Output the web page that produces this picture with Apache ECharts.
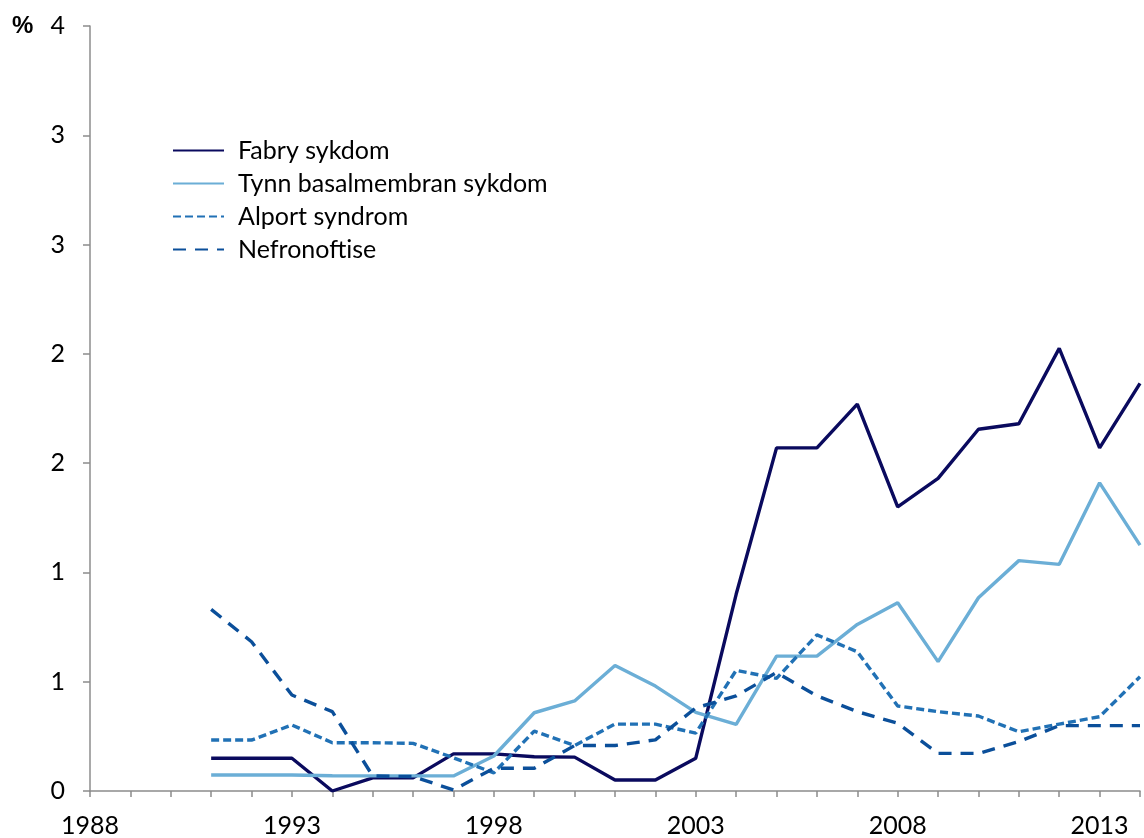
<!DOCTYPE html>
<html>
<head>
<meta charset="utf-8">
<script src="https://cdn.jsdelivr.net/npm/echarts@6/dist/echarts.min.js"></script>
<style>
  html, body { margin: 0; padding: 0; background: #fff; }
  #chart { width: 1144px; height: 838px; }
</style>
</head>
<body>
<div id="chart"></div>
<script>
const years = ['1988', '1989', '1990', '1991', '1992', '1993', '1994', '1995', '1996',
    '1997', '1998', '1999', '2000', '2001', '2002', '2003', '2004', '2005', '2006',
    '2007', '2008', '2009', '2010', '2011', '2012', '2013', '2014'];

const fabry = [null, null, null, 0.15, 0.15, 0.15, 0.00, 0.06, 0.06, 0.17, 0.17, 0.157,
    0.155, 0.05, 0.05, 0.15, 0.90, 1.57, 1.57, 1.77, 1.30, 1.43, 1.655, 1.68, 2.025, 1.57, 1.865];

const tynn = [null, null, null, 0.073, 0.073, 0.073, 0.07, 0.069, 0.069, 0.069, 0.16, 0.358,
    0.412, 0.574, 0.48, 0.36, 0.305, 0.617, 0.617, 0.762, 0.861, 0.592, 0.884, 1.054, 1.037, 1.41, 1.125];

const alport = [null, null, null, 0.233, 0.233, 0.302, 0.221, 0.221, 0.218, 0.152, 0.083, 0.274,
    0.208, 0.306, 0.306, 0.265, 0.552, 0.515, 0.714, 0.637, 0.389, 0.363, 0.343, 0.271, 0.306, 0.34, 0.523];

const nefro = [null, null, null, 0.831, 0.683, 0.439, 0.363, 0.069, 0.066, 0.005, 0.104, 0.104,
    0.208, 0.208, 0.234, 0.38, 0.435, 0.542, 0.435, 0.363, 0.31, 0.172, 0.172, 0.226, 0.299, 0.299, 0.299];

const font = 'Lato, "Open Sans", sans-serif';
const axisGrey = '#8c8c8c';

const chart = echarts.init(document.getElementById('chart'));

function line(name, data, color, type) {
    return {
        name: name,
        type: 'line',
        data: data,
        symbol: 'none',
        connectNulls: false,
        lineStyle: {color: color, width: 3.4, type: type, cap: 'butt'},
        itemStyle: {color: color}
    };
}

chart.setOption({
    animation: false,
    textStyle: {fontFamily: font},
    grid: {left: 90, right: 4, top: 26, bottom: 47},
    graphic: [{
        type: 'text',
        left: 12,
        top: 14,
        style: {text: '%', fontFamily: '"Liberation Sans", Arial, sans-serif', fontSize: 24, fontWeight: 'bold', fill: '#000'}
    }],
    legend: {
        orient: 'vertical',
        left: 167,
        top: 133,
        itemWidth: 51,
        itemHeight: 12,
        itemGap: 8,
        itemStyle: {opacity: 0},
        textStyle: {fontFamily: font, fontSize: 25, color: '#000', padding: [0, 0, 0, 9]},
        data: ['Fabry sykdom', 'Tynn basalmembran sykdom', 'Alport syndrom', 'Nefronoftise']
    },
    xAxis: {
        type: 'category',
        data: years,
        boundaryGap: false,
        axisLine: {lineStyle: {color: axisGrey, width: 1.5}},
        axisTick: {interval: 0, length: 6, lineStyle: {color: axisGrey, width: 1.5}},
        axisLabel: {interval: 4, margin: 22, fontSize: 25, color: '#000', fontFamily: font},
        splitLine: {show: false}
    },
    yAxis: {
        type: 'value',
        min: 0,
        max: 3.5,
        interval: 0.5,
        axisLine: {show: true, lineStyle: {color: axisGrey, width: 1.5}},
        axisTick: {show: true, length: 7, lineStyle: {color: axisGrey, width: 1.5}},
        axisLabel: {
            margin: 25,
            fontSize: 25,
            color: '#000',
            fontFamily: font,
            formatter: v => String(Math.round(v))
        },
        splitLine: {show: false}
    },
    series: [
        line('Fabry sykdom', fabry, '#0a0a5e', 'solid'),
        line('Tynn basalmembran sykdom', tynn, '#6baed6', 'solid'),
        line('Alport syndrom', alport, '#2171b5', [8, 4]),
        line('Nefronoftise', nefro, '#0b4f9a', [13, 9])
    ]
});
</script>
</body>
</html>
